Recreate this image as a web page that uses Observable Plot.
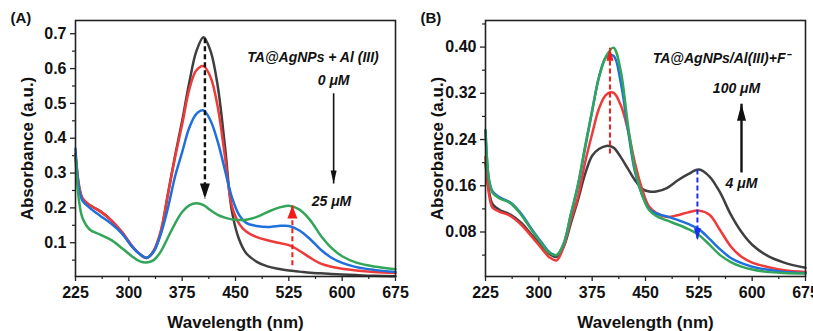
<!DOCTYPE html>
<html><head><meta charset="utf-8">
<script src="https://cdn.jsdelivr.net/npm/d3@7"></script>
<script src="https://cdn.jsdelivr.net/npm/@observablehq/plot@0.6"></script>
<style>
body{margin:0;background:#fff;}
#wrap{display:flex;width:813px;height:331px;overflow:hidden;}
#wrap svg{overflow:visible;}
</style></head><body><div id="wrap"></div>
<script>
// wavelength grid (nm)
const wavelengths = [225,230,235,245,260,275,290,305,315,325,335,345,355,365,375,385,395,405,415,425,435,445,455,465,480,495,510,525,540,555,570,585,600,620,645,675];

// Panel A: TA@AgNPs + Al(III)
const aBlack = [0.35,0.26,0.225,0.208,0.19,0.165,0.13,0.088,0.068,0.056,0.075,0.13,0.24,0.35,0.45,0.56,0.65,0.69,0.65,0.55,0.38,0.19,0.11,0.07,0.045,0.032,0.025,0.02,0.017,0.014,0.012,0.01,0.009,0.007,0.005,0.004];
const aRed   = [0.355,0.265,0.228,0.208,0.19,0.165,0.132,0.09,0.068,0.056,0.078,0.135,0.24,0.345,0.44,0.54,0.595,0.607,0.575,0.49,0.35,0.205,0.155,0.132,0.116,0.107,0.1,0.093,0.077,0.057,0.04,0.031,0.025,0.02,0.016,0.013];
const aBlue  = [0.37,0.255,0.22,0.2,0.177,0.155,0.127,0.088,0.068,0.057,0.075,0.125,0.2,0.29,0.36,0.43,0.47,0.48,0.45,0.39,0.31,0.23,0.18,0.157,0.148,0.145,0.148,0.148,0.135,0.11,0.08,0.057,0.042,0.03,0.022,0.016];
const aGreen = [0.346,0.22,0.17,0.138,0.123,0.108,0.085,0.06,0.047,0.043,0.05,0.075,0.115,0.155,0.188,0.207,0.213,0.208,0.193,0.18,0.172,0.167,0.165,0.166,0.174,0.188,0.2,0.206,0.195,0.165,0.12,0.085,0.061,0.043,0.032,0.024];

// Panel B: TA@AgNPs/Al(III) + F-
const bBlack = [0.2,0.15,0.128,0.118,0.11,0.096,0.075,0.055,0.042,0.037,0.055,0.095,0.135,0.18,0.212,0.224,0.229,0.226,0.21,0.19,0.17,0.155,0.15,0.15,0.156,0.169,0.18,0.188,0.176,0.148,0.11,0.08,0.058,0.04,0.027,0.018];
const bRed   = [0.21,0.145,0.122,0.115,0.108,0.093,0.072,0.05,0.036,0.031,0.055,0.1,0.14,0.2,0.25,0.295,0.318,0.321,0.3,0.258,0.2,0.155,0.124,0.113,0.106,0.109,0.114,0.117,0.11,0.083,0.055,0.037,0.027,0.02,0.014,0.011];
const bBlue  = [0.256,0.17,0.15,0.14,0.131,0.112,0.085,0.06,0.045,0.04,0.06,0.11,0.16,0.225,0.29,0.35,0.383,0.385,0.34,0.26,0.185,0.145,0.12,0.112,0.107,0.101,0.094,0.085,0.068,0.05,0.035,0.026,0.02,0.015,0.011,0.009];
const bGreen = [0.256,0.17,0.148,0.138,0.13,0.11,0.083,0.058,0.044,0.04,0.06,0.11,0.162,0.228,0.29,0.35,0.385,0.399,0.36,0.268,0.19,0.145,0.118,0.108,0.1,0.093,0.085,0.075,0.058,0.04,0.028,0.02,0.015,0.011,0.009,0.008];

const xTicks = [225,300,375,450,525,600,675];
const xMinor = [262.5,337.5,412.5,487.5,562.5,637.5];
const aYTicks = [0.1,0.2,0.3,0.4,0.5,0.6,0.7];
const aYMinor = [0.05,0.15,0.25,0.35,0.45,0.55,0.65];
const bYTicks = [0.08,0.16,0.24,0.32,0.40];
const bYMinor = [0.04,0.12,0.20,0.28,0.36,0.44];

const lineColors = ["#3f3f3f","#ef3a3a","#1f6fdd","#32a55a"];

// annotations (data units)
const aTexts = [
  {x:559, y:0.632, t:"TA@AgNPs + Al (III)"},
  {x:588, y:0.566, t:"0 μM"},
  {x:585, y:0.219, t:"25 μM"}
];
const bTexts = [
  {x:557, y:0.380, t:"TA@AgNPs/Al(III)+F⁻"},
  {x:578, y:0.3285, t:"100 μM"},
  {x:585, y:0.164, t:"4 μM"}
];
const aArrows = [
  {x:407, y1:0.687, y2:0.227, c:"#111", dash:true, w:10, h:15, sw:2.4},
  {x:530, y1:0.035, y2:0.207, c:"#f21b1b", dash:true, w:10, h:13, sw:2},
  {x:588, y1:0.529, y2:0.27, c:"#111", dash:false, w:6, h:13, sw:1.6}
];
const bArrows = [
  {x:400, y1:0.216, y2:0.399, c:"#f21b1b", dash:true, w:7, h:13, sw:2},
  {x:523, y1:0.188, y2:0.0656, c:"#1a2ef0", dash:true, w:7, h:12, sw:2},
  {x:585, y1:0.183, y2:0.302, c:"#111", dash:false, w:9, h:17, sw:2.4}
];

const FONT = "'Liberation Sans', Arial, sans-serif";

function headSymbol(w, h) {
  // tip at origin, base below (points up)
  return {draw(ctx) { ctx.moveTo(0,0); ctx.lineTo(w/2,h); ctx.lineTo(-w/2,h); ctx.closePath(); }};
}

function arrowMarks(arrows) {
  const marks = [];
  for (const a of arrows) {
    marks.push(Plot.link([a], {x1:"x", x2:"x", y1:"y1", y2:"y2", stroke:a.c, strokeWidth:a.sw, strokeDasharray: a.dash ? "5,3" : null}));
    marks.push(Plot.dot([a], {x:"x", y:"y2", symbol: headSymbol(a.w, a.h), fill:a.c, stroke:"none", rotate: a.y2 < a.y1 ? 180 : 0}));
  }
  return marks;
}

function panel(cfg) {
  const lines = cfg.series.map((vals, i) =>
    Plot.line(wavelengths.map((w, j) => ({w, v: vals[j]})), {x:"w", y:"v", stroke: lineColors[i], strokeWidth: 2.5, curve:"catmull-rom"}));
  return Plot.plot({
    width: cfg.width, height: 331,
    marginLeft: 75, marginRight: cfg.marginRight, marginTop: 20, marginBottom: 55,
    style: {fontFamily: FONT, background: "white", color: "#111"},
    x: {domain: [225, 675]},
    y: {domain: cfg.yDomain},
    marks: [
      Plot.axisX(xTicks, {tickSize: 5, tickPadding: 5, fontSize: 16, fontWeight: "bold", label: null, stroke: "#222", strokeWidth: 1.3}),
      Plot.axisX(xMinor, {tickSize: 3, tickFormat: () => "", label: null, stroke: "#222", strokeWidth: 1.2}),
      Plot.axisY(cfg.yTicks, {tickSize: 5, tickPadding: 4, fontSize: 16, fontWeight: "bold", label: null, tickFormat: cfg.fmt, stroke: "#222", strokeWidth: 1.3}),
      Plot.axisY(cfg.yMinor, {tickSize: 3, tickFormat: () => "", label: null, stroke: "#222", strokeWidth: 1.2}),
      ...lines,
      Plot.frame({stroke: "#222", strokeWidth: 1.6}),
      ...arrowMarks(cfg.arrows),
      Plot.text(cfg.texts, {x:"x", y:"y", text:"t", fontSize: 14, fontWeight:"bold", fontStyle:"italic", fill:"#111"}),
      Plot.text([cfg.letter], {frameAnchor:"top-left", dx:-65, dy:-2, textAnchor:"start", lineAnchor:"middle", fontSize:15, fontWeight:"bold", fill:"#111"}),
      Plot.text(["Wavelength (nm)"], {frameAnchor:"bottom", dy:46, textAnchor:"middle", lineAnchor:"middle", fontSize:17, fontWeight:"bold", fill:"#111"}),
      Plot.text(["Absorbance (a.u.)"], {frameAnchor:"left", dx:-48, rotate:-90, textAnchor:"middle", lineAnchor:"middle", fontSize:17, fontWeight:"bold", fill:"#111"})
    ]
  });
}

const wrap = document.getElementById("wrap");
wrap.append(panel({width:410, marginRight:15, yDomain:[0.003,0.738], yTicks:aYTicks, yMinor:aYMinor, fmt: d3.format(".1f"),
  series:[aBlack,aRed,aBlue,aGreen], texts:aTexts, arrows:aArrows, letter:"(A)"}));
wrap.append(panel({width:403, marginRight:8, yDomain:[0.003,0.446], yTicks:bYTicks, yMinor:bYMinor, fmt: d3.format(".2f"),
  series:[bBlack,bRed,bBlue,bGreen], texts:bTexts, arrows:bArrows, letter:"(B)"}));
</script></body></html>
